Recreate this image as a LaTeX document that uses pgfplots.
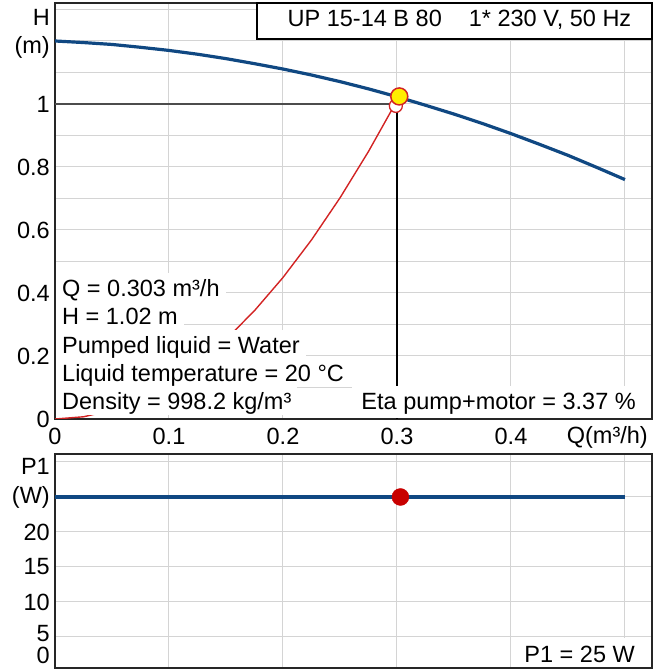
\documentclass[border=0pt]{standalone}
\usepackage{pgfplots}
\pgfplotsset{compat=1.18}
\usepackage{fontspec}
\setmainfont{Liberation Sans}

\definecolor{curveblue}{RGB}{16,72,130}
\definecolor{sysred}{RGB}{210,35,35}
\definecolor{dotred}{RGB}{200,0,0}
\definecolor{dutyyellow}{RGB}{255,238,0}
\definecolor{gridgray}{RGB}{212,212,212}
\newcommand\fs{\fontsize{23.5}{27}\selectfont}

\pgfplotsset{pumpaxis/.style={
    scale only axis, width=597pt, anchor=south west,
    xmin=0, xmax=0.5237,
    xtick={0,0.1,0.2,0.3,0.4,0.5},
    grid=major, grid style={gridgray, line width=1pt},
    major tick length=0pt, tick style={draw=none},
    axis line style={black!85, line width=1.3pt},
    tick label style={font=\fs},
    yticklabel style={inner xsep=0pt, xshift=-5pt},
    xticklabel style={inner ysep=0pt, yshift=-8.5pt},
    extra y tick style={grid=none},
    /pgf/number format/assume math mode=true,
}}

\begin{document}
\begin{tikzpicture}[x=1pt,y=1pt]
\useasboundingbox (0,0) rectangle (663,670);

% Q-H diagram
\begin{axis}[pumpaxis, at={(55pt,251pt)}, height=416pt,
    ymin=0, ymax=1.3206,
    ytick={0,0.1,0.2,0.3,0.4,0.5,0.6,0.7,0.8,0.9,1,1.1,1.2,1.3},
    yticklabels={0,,0.2,,0.4,,0.6,,0.8,,1,,,},
    extra y ticks={1.178,1.276}, extra y tick labels={(m),H},
    xticklabels={0,0.1,0.2,0.3,0.4,},
]
\addplot[curveblue, line width=3.2pt] coordinates {
    (0,1.200) (0.025,1.195) (0.05,1.189) (0.075,1.180) (0.1,1.170)
    (0.125,1.158) (0.15,1.144) (0.175,1.128) (0.2,1.111) (0.225,1.092)
    (0.25,1.071) (0.275,1.048) (0.3,1.023) (0.325,0.996) (0.35,0.968)
    (0.375,0.938) (0.4,0.906) (0.425,0.872) (0.45,0.837) (0.475,0.799)
    (0.5,0.760)};
\addplot[black!70, line width=1.2pt] coordinates {(0,1) (0.3,1)};
\addplot[black, line width=1.2pt] coordinates {(0.3,1) (0.3,0)};
\addplot[only marks, mark=*, mark size=6.5pt,
    mark options={draw=sysred, fill=white, line width=1.3pt}] coordinates {(0.299,0.994)};
\addplot[only marks, mark=*, mark size=8.5pt,
    mark options={draw=sysred, fill=dutyyellow, line width=1.5pt}] coordinates {(0.302,1.024)};
\addplot[sysred, line width=1.4pt] coordinates {
    (0,0) (0.025,0.0070) (0.05,0.0281) (0.075,0.0632) (0.1,0.1123)
    (0.125,0.1755) (0.15,0.2527) (0.175,0.3439) (0.2,0.4492)
    (0.225,0.5685) (0.25,0.7019) (0.275,0.8493) (0.3,1.0107) (0.302,1.024)};
\end{axis}

% P1 diagram
\begin{axis}[pumpaxis, at={(55pt,2pt)}, height=214pt,
    ymin=0.57, ymax=31.14,
    ytick={5,10,15,20,25,30},
    yticklabels={,10,15,20,(W),},
    extra y ticks={2.4,5.5,29.3}, extra y tick labels={0,5,P1},
    xticklabels={},
]
\addplot[curveblue, line width=4.8pt] coordinates {(0,25) (0.5,25)};
\addplot[only marks, mark=*, mark size=8.5pt, dotred] coordinates {(0.303,25)};
\end{axis}

% text boxes
\draw[black, line width=1.2pt, fill=white] (257,631) rectangle (652,667);
\node[anchor=base, font=\fs] at (459.5,643) {UP 15-14 B 80\hspace{27pt}1* 230 V, 50 Hz};

\node[anchor=base east, font=\fs, inner sep=0pt] at (648,226.5) {Q(m³/h)};

\begin{scope}[every node/.style={anchor=base west, fill=white, inner xsep=6pt,
    inner ysep=0pt, text height=23pt, text depth=5.4pt, font=\fs}]
\node at (56,373.5) {Q = 0.303 m³/h};
\node at (56,345.2) {H = 1.02 m};
\node at (56,316.9) {Pumped liquid = Water};
\node at (56,288.6) {Liquid temperature = 20 °C};
\node at (56,260.3) {Density = 998.2 kg/m³};
\end{scope}

\fill[white] (352,252) rectangle (651,284);
\node[anchor=base east, font=\fs, inner sep=0pt] at (636,260) {Eta pump+motor = 3.37 \%};

\fill[white] (515,3) rectangle (651,32);
\node[anchor=base east, font=\fs, inner sep=0pt] at (635,8) {P1 = 25 W};
\end{tikzpicture}
\end{document}
